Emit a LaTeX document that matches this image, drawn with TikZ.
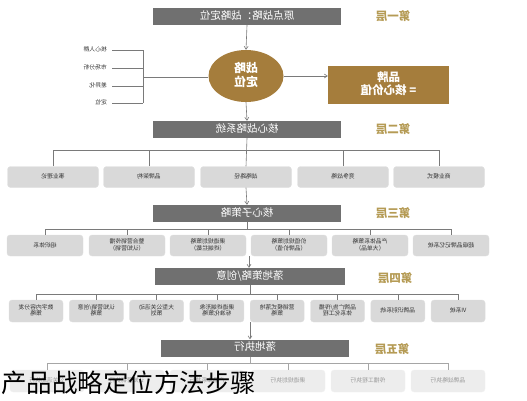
\documentclass[tikz,border=0pt]{standalone}
\usepackage{fontspec}
\usepackage{graphicx}
\setmainfont{Noto Sans CJK SC}
\usetikzlibrary{shapes.geometric,arrows.meta}
\definecolor{barc}{HTML}{707070}
\definecolor{brownc}{HTML}{A57D3C}
\definecolor{goldc}{HTML}{B59B55}
\definecolor{boxc}{HTML}{D9D9D9}
\definecolor{linec}{HTML}{7A7A7A}
\renewcommand{\arraystretch}{0.9}
\newcommand\mir[1]{\reflectbox{\begin{tabular}{@{}c@{}}#1\end{tabular}}}
\begin{document}
\begin{tikzpicture}[x=1pt,y=-1pt,
  bar/.style={fill=barc,text=white,minimum width=188pt,minimum height=17pt,inner sep=0pt,font=\fontsize{10.5}{12}\selectfont},
  layer/.style={text=goldc,inner sep=0pt,font=\bfseries\fontsize{11.5}{13}\selectfont},
  gbox/.style={fill=boxc,draw=black!12,rounded corners=3pt,text=black!80,inner sep=0pt,font=\fontsize{5.8}{6.8}\selectfont},
  fbox/.style={gbox,fill=black!7,draw=black!5,text=black!40},
  conn/.style={draw=linec,line width=0.6pt},
  arr/.style={conn,-{Straight Barb[length=3pt,width=4pt]}},
  small/.style={font=\fontsize{5.8}{6.8}\selectfont,text=black!80,inner sep=0pt},
  w2/.style={minimum width=91pt,minimum height=21pt},
  w3/.style={minimum width=76pt,minimum height=21pt},
  w4/.style={minimum width=54pt,minimum height=22pt},
  w5/.style={minimum width=74pt,minimum height=22pt}
]
\useasboundingbox (0,0) rectangle (527,400);

% layer 1
\node[bar] (bar1) at (247,16.5) {\mir{原点战略：战略定位}};
\node[layer] (l1) at (393,17) {\mir{第一层}};
\node[ellipse,fill=brownc,minimum width=75pt,minimum height=52pt,inner sep=0pt,text=white,font=\bfseries\fontsize{12}{14}\selectfont] (ell) at (246,76) {\mir{战略\\定位}};
\node[fill=brownc,minimum width=121pt,minimum height=38pt,inner sep=0pt,text=white,font=\bfseries\fontsize{11.5}{13.5}\selectfont] (brand) at (388.5,85) {\mir{品牌\\= 核心价值}};
\node[small,anchor=east] (lab1) at (107,50) {\mir{核心人群}};
\node[small,anchor=east] (lab2) at (107,68) {\mir{市场分析}};
\node[small,anchor=east] (lab3) at (107,86) {\mir{差异化}};
\node[small,anchor=east] (lab4) at (107,103) {\mir{定位}};
\coordinate (b1) at (143,50);
\coordinate (b4) at (143,103);
\coordinate (bm) at (143,77);
\foreach \i in {1,2,3,4} \draw[conn] ([xshift=5pt]lab\i.east) -- (lab\i.east -| b1);
\draw[conn] (b1) -- (b4);
\draw[conn] (bm) -- (bm -| ell.west);
\draw[arr] (bar1.south) -- (ell.north);
\draw[arr] (ell.east) -- (ell.east -| brand.west);

% layer 2
\node[bar] (bar2) at (247,129.5) {\mir{核心战略系统}};
\node[layer] (l2) at (393,130) {\mir{第二层}};
\draw[arr] (ell.south) -- (bar2.north);
\node[gbox,w2] (r21) at (53,177) {\mir{事业理论}};
\node[gbox,w2] (r22) at (149,177) {\mir{品牌架构}};
\node[gbox,w2] (r23) at (246,177) {\mir{战略路径}};
\node[gbox,w2] (r24) at (343,177) {\mir{竞争战略}};
\node[gbox,w2] (r25) at (439,177) {\mir{商业模式}};
\coordinate (h2) at (0,150);
\draw[conn] (r21.north) -- (r21.north |- h2) -- (r25.north |- h2) -- (r25.north);
\foreach \i in {2,4} \draw[conn] (r2\i.north) -- (r2\i.north |- h2);
\draw[conn] (bar2.south) -- (r23.north);

% layer 3
\node[bar] (bar3) at (247,213.5) {\mir{核心子策略}};
\node[layer] (l3) at (393,214) {\mir{第三层}};
\draw[arr] (r23.south) -- (bar3.north);
\node[gbox,w3] (r31) at (45,245.5) {\mir{组织体系}};
\node[gbox,w3] (r32) at (127,245.5) {\mir{整合营销传播\\（认知营销）}};
\node[gbox,w3] (r33) at (208,245.5) {\mir{渠道规划策略\\（终端拦截）}};
\node[gbox,w3] (r34) at (289,245.5) {\mir{价值规划策略\\（品牌价值）}};
\node[gbox,w3] (r35) at (370,245.5) {\mir{产品体系策略\\（大单品）}};
\node[gbox,w3] (r36) at (451,245.5) {\mir{超级品牌记忆系统}};
\coordinate (h3) at (0,229);
\draw[conn] (r31.north) -- (r31.north |- h3) -- (r36.north |- h3) -- (r36.north);
\foreach \i in {2,3,4,5} \draw[conn] (r3\i.north) -- (r3\i.north |- h3);
\draw[conn] (bar3.south) -- (bar3.south |- h3);

% layer 4
\node[bar,minimum width=190pt] (bar4) at (250,276.5) {\mir{落地策略/创意}};
\node[layer] (l4) at (395,279) {\mir{第四层}};
\coordinate (g3) at (249,256);
\draw[arr] (g3) -- (g3 |- bar4.north);
\node[gbox,w4] (r41) at (36,311) {\mir{数字内容分发\\策略}};
\node[gbox,w4] (r42) at (96.3,311) {\mir{认知营销/创意\\策略}};
\node[gbox,w4] (r43) at (156.6,311) {\mir{大型公关活动\\策划}};
\node[gbox,w4] (r44) at (216.9,311) {\mir{渠道终端形象\\标准化策略}};
\node[gbox,w4] (r45) at (277.2,311) {\mir{营销模式落地\\策略}};
\node[gbox,w4] (r46) at (337.5,311) {\mir{品牌广告/传播\\体系化工程}};
\node[gbox,w4] (r47) at (397.8,311) {\mir{品牌识别系统}};
\node[gbox,w4] (r48) at (458.1,311) {\mir{VI系统}};
\coordinate (h4) at (0,294);
\draw[conn] (r41.north) -- (r41.north |- h4) -- (r48.north |- h4) -- (r48.north);
\foreach \i in {2,3,4,5,6,7} \draw[conn] (r4\i.north) -- (r4\i.north |- h4);
\draw[conn] (bar4.south) -- (bar4.south |- h4);

% layer 5
\node[bar] (bar5) at (255,348) {\mir{落地执行}};
\node[layer] (l5) at (392,350) {\mir{第五层}};
\coordinate (g4) at (250,322);
\draw[arr] (g4) -- (g4 |- bar5.north);
\node[fbox,w5] (r51) at (47,381) {\mir{公关活动执行}};
\node[fbox,w5] (r52) at (127,381) {\mir{认知营销执行}};
\node[fbox,w5] (r53) at (207,381) {\mir{产品体系执行}};
\node[fbox,w5] (r54) at (288,381) {\mir{渠道规划执行}};
\node[fbox,w5] (r55) at (368,381) {\mir{传播工程执行}};
\node[fbox,w5] (r56) at (448,381) {\mir{品牌战略执行}};
\coordinate (h5) at (0,363);
\draw[conn,draw=black!35] (r51.north) -- (r51.north |- h5) -- (r56.north |- h5) -- (r56.north);
\foreach \i in {2,3,4,5} \draw[conn,draw=black!35] (r5\i.north) -- (r5\i.north |- h5);
\draw[conn,draw=black!35] (g4 |- bar5.south) -- (g4 |- h5);

% caption
\node[anchor=west,inner sep=0pt,text=black,font=\fontsize{25.5}{28}\selectfont] (cap) at (1,383) {产品战略定位方法步骤};
\end{tikzpicture}
\end{document}
